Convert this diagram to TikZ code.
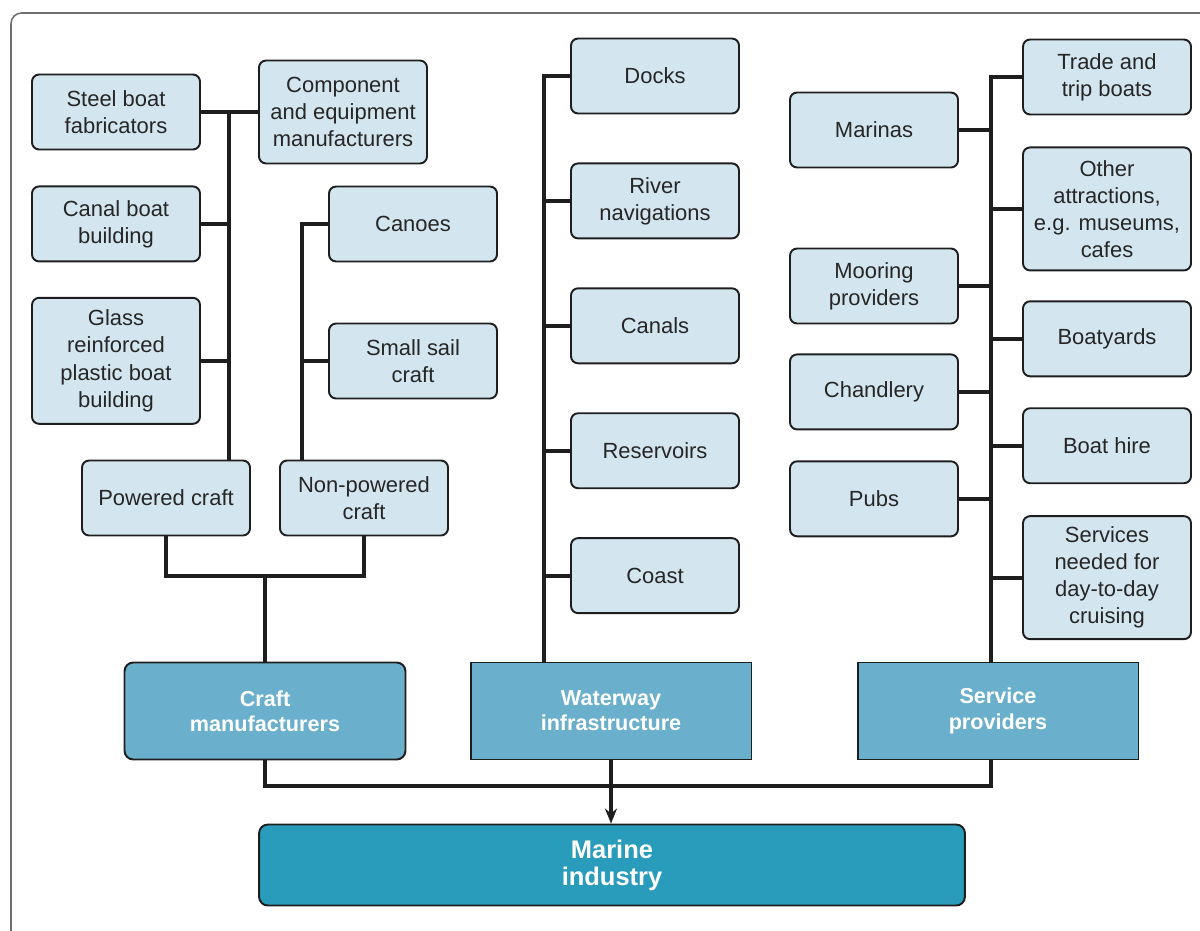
\documentclass[tikz,border=0pt]{standalone}
\usepackage{fontspec}
\setmainfont{Liberation Sans}
\usetikzlibrary{arrows.meta,positioning}
\definecolor{paleblue}{HTML}{D3E6F0}
\definecolor{midblue}{HTML}{6AAFCB}
\definecolor{deepblue}{HTML}{2A9CBB}
\definecolor{ink}{HTML}{1E1E1E}
\definecolor{framegrey}{HTML}{6E6E6E}
\tikzset{
  leaf/.style={rectangle,rounded corners=4pt,draw=ink,line width=1.1pt,fill=paleblue,align=center,minimum width=3.36cm,minimum height=1.5cm,inner sep=2pt,text=black!85,font=\fontsize{12.5}{15.4}\selectfont},
  sector/.style={rectangle,draw=ink,line width=1.1pt,fill=midblue,align=center,minimum width=5.62cm,minimum height=1.94cm,text=white,font=\fontsize{12.3}{14.4}\selectfont\bfseries},
  hub/.style={rectangle,rounded corners=5pt,draw=ink,line width=1.1pt,fill=deepblue,align=center,minimum width=14.12cm,minimum height=1.62cm,text=white,font=\fontsize{14.5}{15.4}\selectfont\bfseries},
  link/.style={line width=2.2pt,ink},
  feed/.style={-{Stealth[length=3mm,width=2.4mm]},line width=2.2pt,ink}
}

\begin{document}
\begin{tikzpicture}[x=0.02cm,y=-0.02cm]
  \useasboundingbox (0,0) rectangle (1200,930);
  \draw[framegrey,line width=0.9pt,rounded corners=6pt] (11,940) -- (11,13) -- (1210,13);

  % craft makers
  \node[leaf] (steel) at (116,112) {Steel boat\\fabricators};
  \node[leaf,below=0.7cm of steel] (canal) {Canal boat\\building};
  \node[leaf,below=0.69cm of canal,minimum height=2.52cm] (glass) {Glass\\reinforced\\plastic boat\\building};
  \node[leaf,minimum height=2.06cm] (comp) at (343,112) {Component\\and equipment\\manufacturers};
  \node[leaf] (canoes) at (413,224) {Canoes};
  \node[leaf] (sail) at (413,361) {Small sail\\craft};
  \node[leaf] (powered) at (166,498) {Powered craft};
  \node[leaf] (npowered) at (364,498) {Non-powered\\craft};

  % waterways
  \node[leaf] (docks) at (655,76) {Docks};
  \node[leaf,below=0.96cm of docks] (river) {River\\navigations};
  \node[leaf,below=0.96cm of river] (canals) {Canals};
  \node[leaf,below=0.96cm of canals] (reserv) {Reservoirs};
  \node[leaf,below=0.96cm of reserv] (coast) {Coast};

  % services
  \node[leaf] (marinas) at (874,130) {Marinas};
  \node[leaf] (mooring) at (874,286) {Mooring\\providers};
  \node[leaf,below=0.58cm of mooring] (chandl) {Chandlery};
  \node[leaf,below=0.6cm of chandl] (pubs) {Pubs};
  \node[leaf] (trade) at (1107,77) {Trade and\\trip boats};
  \node[leaf,below=0.62cm of trade,minimum height=2.46cm] (attract) {Other\\attractions,\\e.g. museums,\\cafes};
  \node[leaf,below=0.58cm of attract] (yards) {Boatyards};
  \node[leaf,below=0.6cm of yards] (hire) {Boat hire};
  \node[leaf,below=0.62cm of hire,minimum height=2.46cm] (cruise) {Services\\needed for\\day-to-day\\cruising};

  \node[sector,rounded corners=5pt] (craft) at (265,711) {Craft\\manufacturers};
  \node[sector] (water) at (611,711) {Waterway\\infrastructure};
  \node[sector] (service) at (998,711) {Service\\providers};
  \node[hub] (marine) at (612,865) {Marine\\industry};

  % trunks
  \coordinate (ptop) at (229,112);
  \coordinate (ntop) at (302,224);
  \coordinate (pjoin) at (265,576);
  \coordinate (wtop) at (544,76);
  \coordinate (stop) at (991,77);
  \coordinate (mjoin) at (611,786);

  \draw[link] (steel.east) -- (comp.west);
  \draw[link] (ptop) -- (ptop |- powered.north);
  \foreach \n in {canal,glass} \draw[link] (\n.east) -- (\n.east -| ptop);
  \draw[link] (canoes.west) -- (ntop) -- (ntop |- npowered.north);
  \draw[link] (sail.west) -- (sail.west -| ntop);
  \draw[link] (powered.south) |- (pjoin) -| (npowered.south);
  \draw[link] (pjoin) -- (craft.north);

  \draw[link] (docks.west) -- (wtop) -- (wtop |- water.north);
  \foreach \n in {river,canals,reserv,coast} \draw[link] (\n.west) -- (\n.west -| wtop);

  \draw[link] (trade.west) -- (stop) -- (stop |- service.north);
  \foreach \n in {marinas,mooring,chandl,pubs} \draw[link] (\n.east) -- (\n.east -| stop);
  \foreach \n in {attract,yards,hire,cruise} \draw[link] (\n.west) -- (\n.west -| stop);

  \draw[link] (craft.south) |- (mjoin) -| (stop |- service.south);
  \draw[feed] (water.south) -- (water.south |- marine.north);
\end{tikzpicture}
\end{document}
